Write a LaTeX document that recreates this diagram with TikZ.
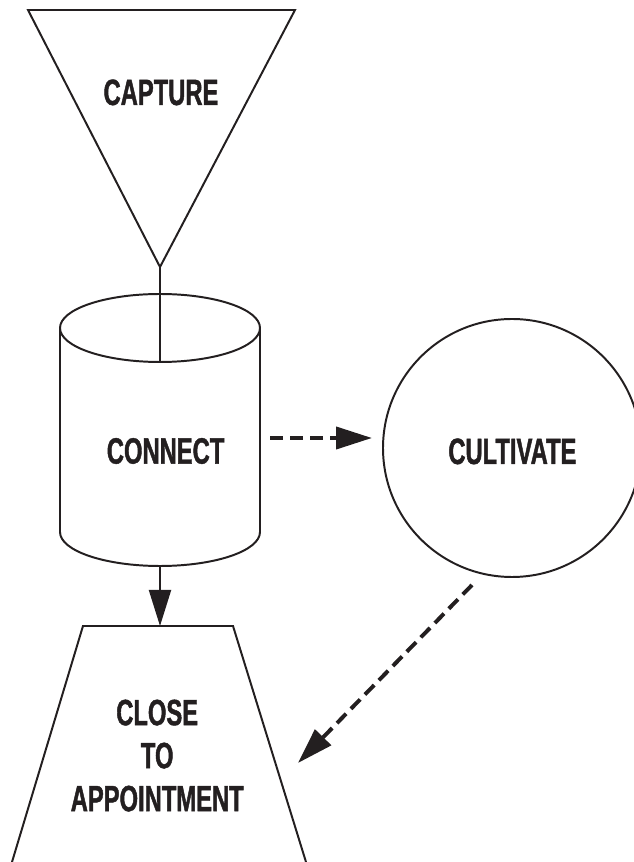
\documentclass[tikz,border=0pt]{standalone}
\usepackage{fontspec}
\newfontfamily\condfont[FakeStretch=0.65,FakeBold=1.2]{Liberation Sans}
\usetikzlibrary{arrows.meta}
\definecolor{ink}{HTML}{231F20}
\tikzset{
    tag/.style={font=\condfont\bfseries\fontsize{26}{30.6}\selectfont, text=ink, inner sep=0pt, align=center},
    flow/.style={line width=1.4pt, -{Triangle[length=9mm,width=5.5mm]}},
    dflow/.style={flow, line width=2.8pt, dash pattern=on 3.3mm off 1.7mm}
}

\begin{document}
\begin{tikzpicture}[line width=1.4pt, line join=miter, draw=ink]
\clip (0,0) rectangle (15.85,21.55);
\def\rx{2.5}     % half width of cylinder
\def\ry{0.85}    % half height of its ellipses
% capture funnel
\coordinate (apex) at (4,14.875);
\draw (0.7,21.3) -- (7.375,21.3) -- (apex) -- cycle;
\node[tag] (capture) at (4.025,19.24) {CAPTURE};
% connect cylinder
\draw (4,13.35) ellipse [x radius=\rx, y radius=\ry];
\draw (4-\rx,13.35) -- (4-\rx,8.25) arc[start angle=180, end angle=360, x radius=\rx, y radius=\ry] -- (4+\rx,13.35);
\coordinate (cyltop) at (4,13.35-\ry);
\coordinate (cylbot) at (4,8.25-\ry);
\node[tag] (connect) at (4.14,10.275) {CONNECT};
% cultivate circle
\draw (12.8,10.35) circle [radius=3.225];
\node[tag] (cultivate) at (12.81,10.265) {CULTIVATE};
% close trapezoid
\draw (0.3,0) -- (2.075,5.9) -- (5.825,5.9) -- (7.65,0);
\coordinate (trtop) at (4,5.9);
\node[tag] (close) at (3.93,2.66) {CLOSE\\TO\\APPOINTMENT};
% connectors
\coordinate (cnright) at (6.75,10.6);
\coordinate (cvleft) at (9.3,10.6);
\coordinate (cvlow) at (11.8,6.925);
\coordinate (trright) at (7.45,2.475);
\draw[ink] (apex) -- (cyltop);
\draw[flow,ink] (cylbot) -- (trtop);
\draw[dflow,ink] (cnright) -- (cvleft);
\draw[dflow,ink] (cvlow) -- (trright);
\end{tikzpicture}
\end{document}
